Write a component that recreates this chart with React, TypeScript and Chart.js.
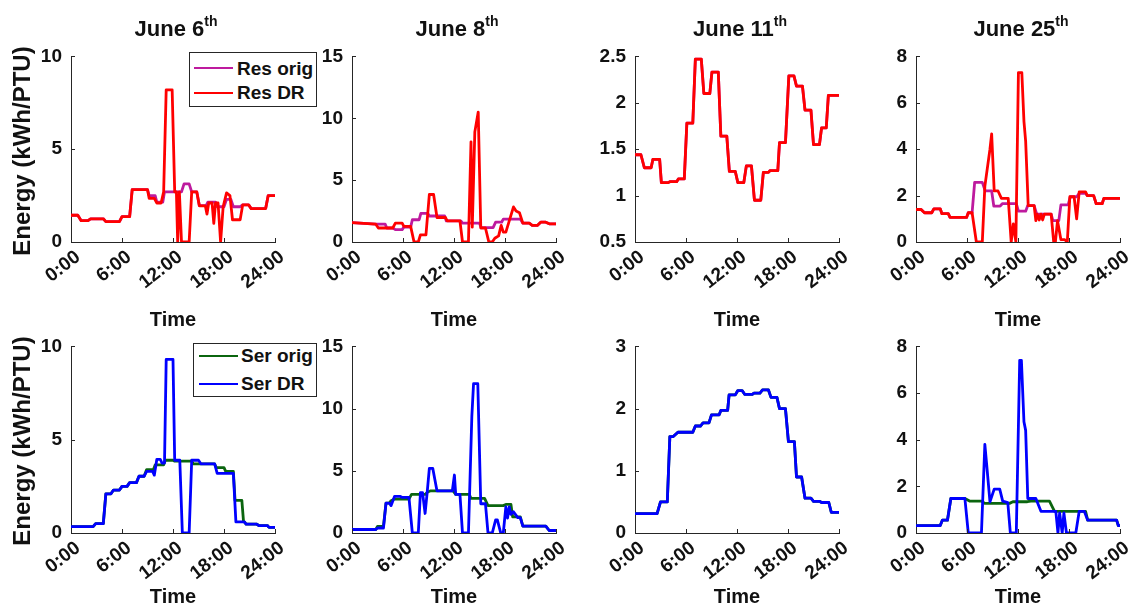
import React, { useEffect, useRef } from 'react';
import { Chart, registerables } from 'chart.js';
Chart.register(...registerables);

type P = [number, number];

// ---------- data: [hour of day, energy kWh/PTU] ----------
const resOrigJun6: P[] = [[0,1.44],[0.8,1.44],[1.2,1.15],[2.0,1.15],[2.3,1.25],[3.8,1.25],[4.1,1.1],[5.7,1.1],[6.0,1.37],[6.9,1.37],[7.2,2.82],[9.0,2.82],[9.2,2.5],[9.9,2.5],[10.1,2.15],[10.8,2.15],[11.0,2.7],[13.0,2.7],[13.3,3.13],[13.9,3.13],[14.2,2.7],[14.8,2.7],[15.1,1.96],[15.9,1.96],[16.1,2.15],[17.0,2.15],[17.2,1.9],[18.0,1.9],[18.3,2.3],[18.8,2.3],[19.1,1.9],[19.9,1.9],[20.2,2.0],[20.9,2.0],[21.2,1.8],[22.9,1.8],[23.2,2.5],[24,2.5]];
const resDRJun6: P[] = [[0,1.44],[0.8,1.44],[1.2,1.15],[2.0,1.15],[2.3,1.25],[3.8,1.25],[4.1,1.1],[5.7,1.1],[6.0,1.37],[6.9,1.37],[7.2,2.82],[9.0,2.82],[9.2,2.35],[9.8,2.35],[10.1,2.1],[10.6,2.1],[10.9,2.7],[11.2,8.2],[11.9,8.2],[12.2,2.7],[12.4,2.7],[12.55,0],[12.75,2.7],[13.0,0],[13.9,0],[14.2,2.7],[14.8,2.7],[15.1,1.95],[15.8,1.95],[16.0,1.5],[16.2,2.1],[16.6,2.1],[16.8,1.0],[17.0,2.1],[17.3,2.1],[17.6,0],[17.9,1.9],[18.3,2.65],[18.7,2.5],[19.0,1.2],[19.9,1.2],[20.2,2.0],[20.9,2.0],[21.2,1.8],[22.9,1.8],[23.2,2.5],[24,2.5]];

const resOrigJun8: P[] = [[0,1.57],[2.8,1.44],[3.9,1.44],[4.1,1.13],[4.8,1.13],[5.1,1.0],[5.9,1.0],[6.1,1.2],[6.9,1.2],[7.1,1.8],[7.9,1.8],[8.1,2.32],[8.9,2.32],[9.1,2.1],[10.9,2.1],[11.1,1.7],[12.8,1.7],[13.0,1.52],[15.0,1.52],[15.2,1.16],[16.6,1.16],[16.9,1.6],[17.6,1.6],[17.8,1.85],[19.8,1.85],[20.1,1.52],[20.85,1.52],[21.2,1.34],[21.8,1.34],[22.2,1.6],[22.8,1.6],[23.2,1.47],[24,1.47]];
const resDRJun8: P[] = [[0,1.57],[2.8,1.44],[3.1,1.13],[4.8,1.13],[5.1,1.52],[5.9,1.52],[6.1,1.26],[6.9,1.26],[7.3,0],[7.8,0],[8.05,0.57],[8.7,0.57],[9.1,3.84],[9.6,3.84],[10.0,1.98],[11.0,1.98],[11.2,1.7],[12.7,1.7],[13.0,0],[13.7,0],[14.0,8.1],[14.15,1.2],[14.45,8.9],[14.85,10.5],[15.15,1.13],[15.7,1.13],[16.1,0],[16.5,0],[16.8,0.3],[17.25,0.5],[17.55,1.34],[17.8,0.8],[18.1,0.8],[19.0,2.84],[19.3,2.5],[19.7,2.37],[20.1,1.52],[20.85,1.52],[21.2,1.34],[21.8,1.34],[22.2,1.6],[22.8,1.6],[23.2,1.47],[24,1.47]];

const resDRJun11: P[] = [[0,1.44],[0.7,1.44],[1.1,1.3],[1.9,1.3],[2.1,1.39],[2.9,1.39],[3.1,1.14],[3.9,1.14],[4.1,1.15],[4.9,1.15],[5.1,1.18],[5.8,1.18],[6.1,1.78],[6.8,1.78],[7.1,2.47],[7.8,2.47],[8.1,2.1],[8.8,2.1],[9.05,2.33],[9.8,2.33],[10.1,1.64],[10.8,1.64],[11.1,1.26],[11.8,1.26],[12.1,1.14],[12.8,1.14],[13.1,1.32],[13.7,1.32],[14.05,0.95],[14.8,0.95],[15.1,1.25],[15.7,1.25],[15.9,1.27],[16.8,1.27],[17.0,1.57],[17.7,1.57],[18.1,2.29],[18.7,2.29],[19.0,2.18],[19.7,2.18],[20.0,1.92],[20.7,1.92],[21.0,1.55],[21.7,1.55],[21.95,1.73],[22.5,1.73],[22.75,2.08],[24,2.08]];
const resOrigJun11: P[] = resDRJun11;

const resOrigJun25: P[] = [[0,1.4],[0.6,1.4],[1.0,1.26],[1.85,1.26],[2.1,1.43],[2.85,1.43],[3.05,1.22],[3.8,1.22],[4.0,1.06],[5.95,1.06],[6.15,1.26],[6.6,1.26],[6.9,2.57],[7.8,2.57],[8.15,2.2],[8.9,2.2],[9.15,1.55],[9.9,1.55],[10.15,1.65],[11.8,1.65],[12.05,1.33],[12.9,1.33],[13.15,1.57],[13.9,1.57],[14.2,1.2],[15.9,1.2],[16.1,0.92],[16.8,0.92],[17.05,1.6],[17.9,1.6],[18.15,1.95],[18.9,1.95],[19.2,2.1],[19.95,2.1],[20.15,2.0],[20.9,2.0],[21.2,1.65],[21.9,1.65],[22.1,1.88],[24,1.88]];
const resDRJun25: P[] = [[0,1.4],[0.6,1.4],[1.0,1.26],[1.85,1.26],[2.1,1.43],[2.85,1.43],[3.05,1.22],[3.8,1.22],[4.0,1.06],[5.95,1.06],[6.15,1.26],[6.6,1.26],[7.1,0],[7.8,0],[8.1,2.4],[8.7,4.0],[8.9,4.66],[9.2,2.2],[9.65,2.2],[10.05,1.88],[10.85,1.88],[11.2,0],[11.45,0.78],[11.75,0],[12.05,7.3],[12.45,7.3],[12.7,5.2],[12.9,4.35],[13.2,1.57],[13.9,1.57],[14.1,0.92],[14.25,1.2],[14.5,0.95],[14.7,1.2],[14.9,0.95],[15.1,1.2],[15.9,1.2],[16.2,0],[16.4,0],[16.65,0.92],[17.05,0.1],[17.5,0.1],[17.8,0],[18.1,1.95],[18.6,1.95],[18.9,1.0],[19.2,2.16],[19.95,2.16],[20.15,2.0],[20.9,2.0],[21.2,1.65],[21.9,1.65],[22.1,1.88],[24,1.88]];

const serOrigJun6: P[] = [[0,0.34],[2.6,0.34],[2.9,0.5],[3.8,0.5],[4.1,2.1],[4.7,2.1],[5.0,2.3],[5.7,2.3],[6.0,2.5],[6.6,2.5],[6.9,2.7],[7.7,2.7],[8.0,3.04],[8.6,3.04],[8.9,3.4],[9.7,3.4],[9.9,3.65],[10.9,3.65],[11.1,3.9],[12.0,3.9],[12.2,3.85],[14.2,3.85],[14.4,3.7],[16.9,3.7],[17.1,3.5],[18.0,3.5],[18.2,3.3],[19.1,3.3],[19.3,1.75],[20.1,1.75],[20.3,0.6],[20.4,0.6],[20.6,0.48],[21.8,0.48],[22.1,0.4],[23.1,0.4],[23.3,0.3],[24,0.3]];
const serDRJun6: P[] = [[0,0.34],[2.6,0.34],[2.9,0.5],[3.8,0.5],[4.1,2.1],[4.7,2.1],[5.0,2.3],[5.7,2.3],[6.0,2.5],[6.6,2.5],[6.9,2.7],[7.7,2.7],[8.0,3.04],[8.6,3.04],[8.9,3.3],[9.6,3.3],[9.8,3.1],[10.1,3.95],[10.5,3.95],[10.7,3.75],[11.0,3.75],[11.2,9.3],[12.0,9.3],[12.2,3.9],[12.8,3.9],[13.1,0],[13.9,0],[14.2,3.9],[15.0,3.9],[15.3,3.7],[16.9,3.7],[17.2,3.2],[19.1,3.2],[19.4,0.6],[20.4,0.6],[20.6,0.48],[21.8,0.48],[22.1,0.4],[23.1,0.4],[23.3,0.3],[24,0.3]];

const serOrigJun8: P[] = [[0,0.28],[2.8,0.28],[3.0,0.54],[3.7,0.54],[4.0,2.4],[4.4,2.4],[4.6,2.6],[5.0,2.73],[6.7,2.73],[7.0,3.1],[8.6,3.1],[8.9,3.3],[9.2,3.38],[11.9,3.38],[12.2,3.1],[13.8,3.1],[14.0,2.78],[15.6,2.78],[16.0,2.2],[17.8,2.2],[18.1,2.3],[18.7,2.3],[18.9,1.3],[19.8,1.3],[20.1,0.55],[22.8,0.55],[23.2,0.2],[24,0.2]];
const serDRJun8: P[] = [[0,0.28],[2.8,0.28],[3.0,0.4],[3.7,0.4],[4.0,2.4],[4.4,2.4],[4.6,2.2],[5.0,2.94],[5.7,2.94],[5.9,2.86],[6.7,2.86],[7.1,0],[7.8,0],[8.05,3.25],[8.3,3.25],[8.6,1.57],[8.85,3.3],[9.1,5.2],[9.5,5.2],[10.0,3.38],[11.8,3.38],[12.05,4.66],[12.2,3.1],[12.7,3.1],[13.0,0],[13.7,0],[14.1,9.4],[14.3,12.0],[14.8,12.0],[15.15,2.35],[15.7,2.35],[16.0,0],[16.5,0],[16.9,1.05],[17.1,1.05],[17.5,0],[17.8,0],[18.1,2.1],[18.3,1.2],[18.5,2.1],[18.7,1.5],[19.0,1.7],[19.5,1.24],[19.8,1.24],[20.1,0.55],[22.8,0.55],[23.2,0.2],[24,0.2]];

const serDRJun11: P[] = [[0,0.31],[2.6,0.31],[3.0,0.5],[3.8,0.5],[4.1,1.55],[4.5,1.55],[5.05,1.62],[6.8,1.62],[7.1,1.72],[7.7,1.72],[8.0,1.77],[8.7,1.77],[9.0,1.9],[9.9,1.9],[10.1,1.97],[10.9,1.97],[11.07,2.22],[11.8,2.22],[12.1,2.29],[12.6,2.29],[12.9,2.23],[13.8,2.23],[14.0,2.25],[14.7,2.25],[15.0,2.3],[15.7,2.3],[16.0,2.18],[16.7,2.18],[17.0,2.0],[17.7,2.0],[18.05,1.47],[18.75,1.47],[19.0,0.9],[19.6,0.9],[20.0,0.56],[20.7,0.56],[21.0,0.51],[21.7,0.51],[21.95,0.49],[22.8,0.49],[23.1,0.33],[24,0.33]];
const serOrigJun11: P[] = serDRJun11;

const serOrigJun25: P[] = [[0,0.32],[2.85,0.32],[3.1,0.55],[3.7,0.55],[4.1,1.48],[5.75,1.48],[6.3,1.37],[7.7,1.37],[8.1,1.27],[11.0,1.27],[11.4,1.34],[13.1,1.34],[13.5,1.37],[15.7,1.37],[16.3,0.93],[19.95,0.93],[20.2,0.55],[23.6,0.55],[23.8,0.32],[24,0.32]];
const serDRJun25: P[] = [[0,0.32],[2.85,0.32],[3.1,0.55],[3.7,0.55],[4.1,1.48],[5.75,1.48],[6.15,0],[7.7,0],[8.1,3.8],[8.3,3.0],[8.7,1.34],[9.2,1.88],[9.85,1.88],[10.2,1.37],[10.8,1.3],[11.1,0],[11.8,0],[12.2,7.4],[12.4,7.4],[12.7,4.77],[12.9,4.4],[13.15,1.48],[14.1,1.48],[14.7,0.93],[16.45,0.93],[16.7,0],[16.9,0.86],[17.2,0],[17.4,0.86],[17.7,0],[18.8,0],[19.2,0.93],[19.8,0.93],[20.2,0.55],[23.6,0.55],[23.8,0.32],[24,0.32]];

const hourTicks = [0, 6, 12, 18, 24];
const hourLabels = ['0:00', '6:00', '12:00', '18:00', '24:00'];
const dayNames = ['June 6', 'June 8', 'June 11', 'June 25'];
const yTicksTop = [[0, 5, 10], [0, 5, 10, 15], [0.5, 1, 1.5, 2, 2.5], [0, 2, 4, 6, 8]];
const yTicksBottom = [[0, 5, 10], [0, 5, 10, 15], [0, 1, 2, 3], [0, 2, 4, 6, 8]];
const resOrigSeries = [resOrigJun6, resOrigJun8, resOrigJun11, resOrigJun25];
const resDRSeries = [resDRJun6, resDRJun8, resDRJun11, resDRJun25];
const serOrigSeries = [serOrigJun6, serOrigJun8, serOrigJun11, serOrigJun25];
const serDRSeries = [serDRJun6, serDRJun8, serDRJun11, serDRJun25];
const resLabels = ['Res orig', 'Res DR'];
const serLabels = ['Ser orig', 'Ser DR'];

// ---------- styling / layout ----------
const FONT = "'Liberation Sans', Arial, Helvetica, sans-serif";
const AXIS = '#262626';
const C_RES_ORIG = '#BE1A9E';
const C_RES_DR = '#FF0000';
const C_SER_ORIG = '#0B650F';
const C_SER_DR = '#0000FF';
const PLOT_LEFT = [71, 352, 635, 916];
const PLOT_W = 204;
const ROWS = [
  { top: 48, bottom: 242, xh: 93, timePad: 3 },
  { top: 338, bottom: 533, xh: 78, timePad: 2 },
];
const YW = 60;
const TP = 12;
const RP = 22;

const inwardTicks = {
  id: 'inwardTicks',
  afterDatasetsDraw(chart: any) {
    const { ctx, chartArea: a, scales } = chart;
    const x = scales.x, y = scales.y;
    ctx.save();
    ctx.strokeStyle = AXIS;
    ctx.lineWidth = 1;
    ctx.beginPath();
    x.ticks.forEach((t: any) => {
      const px = Math.round(x.getPixelForValue(t.value)) + 0.5;
      ctx.moveTo(px, a.bottom);
      ctx.lineTo(px, a.bottom - 4);
    });
    y.ticks.forEach((t: any) => {
      const py = Math.round(y.getPixelForValue(t.value)) + 0.5;
      ctx.moveTo(a.left, py);
      ctx.lineTo(a.left + 4, py);
    });
    ctx.stroke();
    ctx.restore();
  },
};

interface Series { data: P[]; color: string; label: string }

function Panel({ row, col, series, yTicks }: { row: number; col: number; series: Series[]; yTicks: number[] }) {
  const ref = useRef<HTMLCanvasElement>(null);
  const R = ROWS[row];
  const plotH = R.bottom - R.top;
  const left = PLOT_LEFT[col] - YW;
  const top = R.top - TP;
  const w = YW + PLOT_W + RP;
  const h = TP + plotH + R.xh;
  useEffect(() => {
    const chart = new Chart(ref.current as HTMLCanvasElement, {
      type: 'line',
      data: {
        datasets: series.map((s) => ({
          label: s.label,
          data: s.data.map(([x, y]) => ({ x, y })),
          borderColor: s.color,
          backgroundColor: s.color,
          borderWidth: 2.8,
          pointRadius: 0,
          tension: 0,
          fill: false,
          borderJoinStyle: 'round',
        })),
      },
      options: {
        animation: false,
        responsive: false,
        maintainAspectRatio: false,
        layout: { padding: { left: 0, top: TP, right: RP, bottom: 0 } },
        plugins: { legend: { display: false }, tooltip: { enabled: false }, title: { display: false } },
        scales: {
          x: {
            type: 'linear',
            min: 0,
            max: 24,
            afterBuildTicks: (s: any) => { s.ticks = hourTicks.map((v) => ({ value: v })); },
            afterFit: (s: any) => { s.height = R.xh; },
            grid: { display: false, drawTicks: false },
            border: { display: true, color: AXIS, width: 1 },
            ticks: {
              autoSkip: false,
              minRotation: 38,
              maxRotation: 38,
              padding: 4,
              labelOffset: 7,
              color: '#111',
              font: { family: FONT, size: 19, weight: 'bold' },
              callback: (_v: any, i: number) => hourLabels[i],
            },
            title: {
              display: true,
              text: 'Time',
              color: '#111',
              font: { family: FONT, size: 20, weight: 'bold' },
              padding: { top: 0, bottom: R.timePad },
            },
          },
          y: {
            type: 'linear',
            min: yTicks[0],
            max: yTicks[yTicks.length - 1],
            afterBuildTicks: (s: any) => { s.ticks = yTicks.map((v) => ({ value: v })); },
            afterFit: (s: any) => { s.width = YW; },
            grid: { display: false, drawTicks: false },
            border: { display: true, color: AXIS, width: 1 },
            ticks: {
              padding: 9,
              color: '#111',
              font: { family: FONT, size: 19, weight: 'bold' },
              callback: (v: any) => String(v),
            },
          },
        },
      } as any,
      plugins: [inwardTicks],
    });
    return () => chart.destroy();
  }, []);
  return (
    <canvas
      ref={ref}
      width={w}
      height={h}
      style={{ position: 'absolute', left, top, width: w, height: h }}
    />
  );
}

function Legend({ left, top, width, height, rows, labels, colors, lineLeft, textLeft }: any) {
  return (
    <div style={{ position: 'absolute', left, top, width, height, border: `1px solid ${AXIS}`, background: '#fff', boxSizing: 'border-box' }}>
      {labels.map((lab: string, i: number) => (
        <React.Fragment key={lab}>
          <div style={{ position: 'absolute', left: lineLeft, top: rows[i] - 1.4, width: 39, height: 0, borderTop: `2.8px solid ${colors[i]}` }} />
          <div style={{ position: 'absolute', left: textLeft, top: rows[i] - 11, lineHeight: '22px', font: `bold 19px ${FONT}`, color: '#111', whiteSpace: 'nowrap' }}>{lab}</div>
        </React.Fragment>
      ))}
    </div>
  );
}

export default function App() {
  const panels: any[] = [];
  for (let c = 0; c < 4; c++) {
    panels.push(
      <Panel key={`t${c}`} row={0} col={c} yTicks={yTicksTop[c]}
        series={[
          { data: resDRSeries[c], color: C_RES_DR, label: resLabels[1] },
          { data: resOrigSeries[c], color: C_RES_ORIG, label: resLabels[0] },
        ]} />
    );
    panels.push(
      <Panel key={`b${c}`} row={1} col={c} yTicks={yTicksBottom[c]}
        series={[
          { data: serDRSeries[c], color: C_SER_DR, label: serLabels[1] },
          { data: serOrigSeries[c], color: C_SER_ORIG, label: serLabels[0] },
        ]} />
    );
  }
  return (
    <div style={{ position: 'absolute', left: 0, top: 0, width: 1131, height: 611, background: '#fff', overflow: 'hidden', fontFamily: FONT }}>
      {panels}
      {dayNames.map((d, c) => (
        <div key={d} style={{ position: 'absolute', left: PLOT_LEFT[c] + 3, top: 16, width: PLOT_W, textAlign: 'center', lineHeight: '28px', font: `bold 22px ${FONT}`, color: '#111', whiteSpace: 'nowrap' }}>
          {d}<span style={{ fontSize: 14, position: 'relative', top: -10 }}>th</span>
        </div>
      ))}
      {[151, 441].map((cy) => (
        <div key={cy} style={{ position: 'absolute', left: 22, top: cy, transform: 'translate(-50%, -50%) rotate(-90deg)', font: `bold 24px ${FONT}`, color: '#111', whiteSpace: 'nowrap' }}>
          Energy (kWh/PTU)
        </div>
      ))}
      <Legend left={189} top={52} width={128} height={55} rows={[15.5, 40]} labels={resLabels} colors={[C_RES_ORIG, C_RES_DR]} lineLeft={4} textLeft={47} />
      <Legend left={193} top={343} width={124} height={54} rows={[12, 40]} labels={serLabels} colors={[C_SER_ORIG, C_SER_DR]} lineLeft={5} textLeft={47} />
    </div>
  );
}
